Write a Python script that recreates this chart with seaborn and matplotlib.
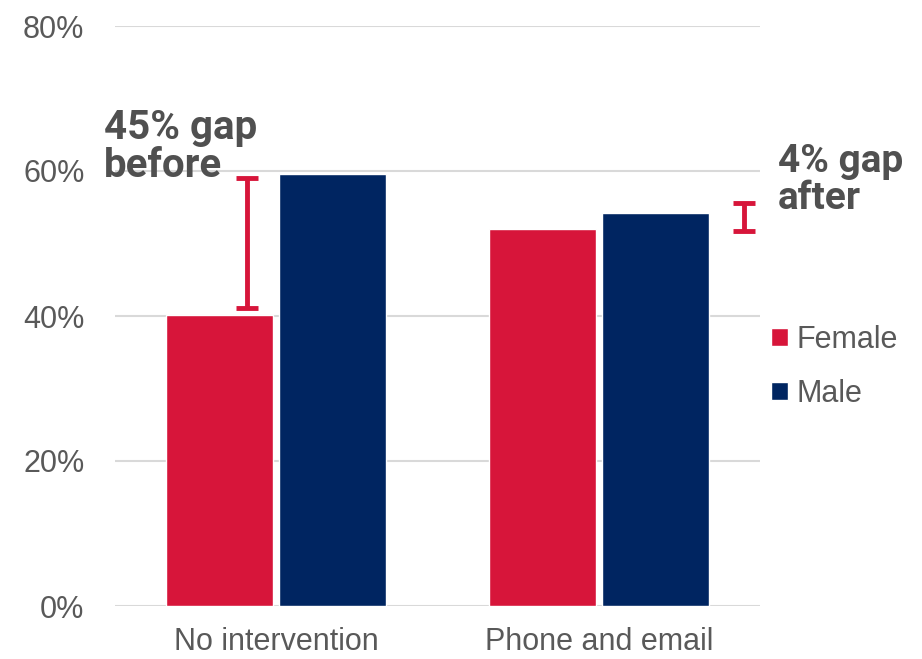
import matplotlib
matplotlib.use("Agg")
import matplotlib.pyplot as plt
import seaborn as sns
import pandas as pd
from matplotlib.patches import Patch

categories = ["No intervention", "Phone and email"]
female = [40.1, 52.0]
male = [59.6, 54.2]
gap_before = (41.1, 59.0)
gap_after = (51.7, 55.6)
yticks = [0, 20, 40, 60, 80]

df = pd.DataFrame({
    "group": categories * 2,
    "sex": ["Female"] * 2 + ["Male"] * 2,
    "value": female + male,
})

sns.set_theme(style="white")
plt.rcParams['font.family'] = ['Liberation Sans', 'DejaVu Sans']

RED = "#D7153A"
NAVY = "#002561"
GREY = "#595959"

fig = plt.figure(figsize=(9.22, 6.59), dpi=100)
ax = fig.add_axes([115/922, 1-606/659, (760-115)/922, (606-26)/659])

sns.barplot(data=df, x="group", y="value", hue="sex", order=categories,
            hue_order=["Female", "Male"], palette=[RED, NAVY],
            width=0.7, gap=0.05, ax=ax, legend=False, saturation=1)

ax.set_ylim(0, 80)
ax.set_xlim(-0.5, 1.5)
ax.set_yticks(yticks)
ax.set_yticklabels([f"{v}%" for v in yticks])
ax.yaxis.grid(True, color="#d9d9d9", linewidth=1.5)
ax.set_axisbelow(True)
for s in ax.spines.values():
    s.set_visible(False)
ax.tick_params(axis="both", length=0, labelsize=22, labelcolor=GREY)
ax.tick_params(axis="y", pad=22)
ax.tick_params(axis="x", pad=15)
ax.set_xlabel("")
ax.set_ylabel("")

# gap markers
for xpos, (lo, hi), cw in [(-0.09, gap_before, 0.034), (1.449, gap_after, 0.034)]:
    ax.plot([xpos, xpos], [lo, hi], color=RED, lw=3.5, solid_capstyle="butt", clip_on=False)
    for yy in (lo, hi):
        ax.plot([xpos - cw, xpos + cw], [yy, yy], color=RED, lw=3.5,
                solid_capstyle="butt", clip_on=False)

fig.text(104/922, 1-109/659, "45% gap\nbefore", fontsize=29, fontweight="bold",
         color="#505050", family=["Roboto", "DejaVu Sans"], va="top", ha="left",
         linespacing=1.0)
fig.text(778/922, 1-143/659, "4% gap\nafter", fontsize=28, fontweight="bold",
         color="#505050", family=["Roboto", "DejaVu Sans"], va="top", ha="left",
         linespacing=1.0)

handles = [Patch(facecolor=RED, label="Female"), Patch(facecolor=NAVY, label="Male")]
leg = fig.legend(handles=handles, loc="upper left", bbox_to_anchor=(771/922, 1-325/659),
                 frameon=False, fontsize=22, handlelength=0.55, handleheight=0.55,
                 handletextpad=0.3, labelspacing=0.78, labelcolor=GREY,
                 borderpad=0, borderaxespad=0)

fig.savefig("out.png", dpi=100)
